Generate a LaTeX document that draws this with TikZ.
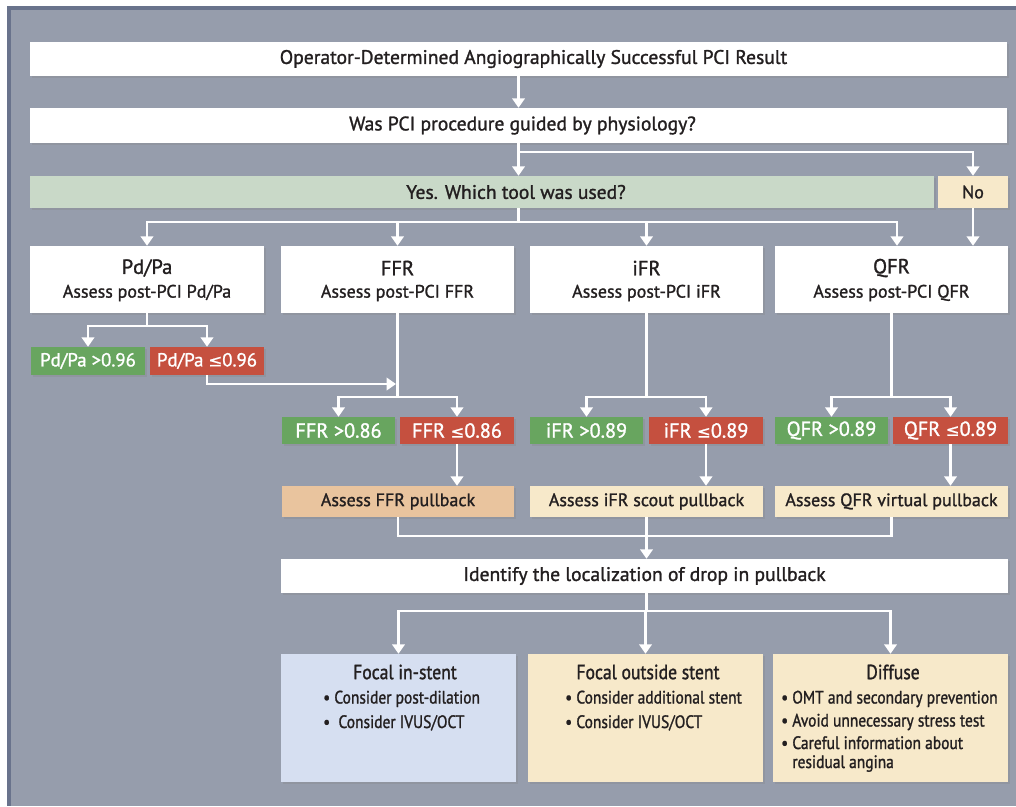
\documentclass[tikz,border=0pt]{standalone}
\usepackage{fontspec}
\setmainfont{PT Sans}[FakeBold=1.3]
\newfontfamily\symf{DejaVu Sans}[FakeBold=0.8]
\newfontfamily\condf{PT Sans}[FakeStretch=0.86,FakeBold=1.3]
\usetikzlibrary{arrows.meta,shadows}
\definecolor{bgc}{HTML}{969DAC}
\definecolor{framec}{HTML}{69738C}
\definecolor{yesg}{HTML}{C9D9C8}
\definecolor{cream}{HTML}{F7E9CA}
\definecolor{orng}{HTML}{E9C49E}
\definecolor{lblue}{HTML}{D6DFF1}
\definecolor{gok}{HTML}{68A55F}
\definecolor{rbad}{HTML}{C5503F}
\definecolor{txt}{HTML}{231F20}
\newcommand{\leqs}{{\symf\fontsize{16.5}{18}\selectfont ≤}}
\begin{document}
\begin{tikzpicture}[x=1pt,y=-1pt,
  basebox/.style={inner sep=0pt, text=txt, drop shadow={opacity=0.25,shadow xshift=1.5pt,shadow yshift=-1.5pt}},
  wbox/.style={basebox, fill=white, font=\fontsize{19.6}{22}\selectfont},
  rowbox/.style={basebox, fill=white},
  rowtxt/.style={inner sep=0pt, text=txt},
  okbox/.style={basebox, fill=gok, text=white, font=\fontsize{20.3}{22}\selectfont},
  badbox/.style={basebox, fill=rbad, text=white, font=\fontsize{20.3}{22}\selectfont},
  pbbox/.style={basebox, font=\fontsize{18}{20}\selectfont},
  endbox/.style={basebox},
  headtxt/.style={inner sep=0pt, text=txt, font=\condf\fontsize{20.5}{22}\selectfont},
  listtxt/.style={inner sep=0pt, text=txt, align=left, font=\condf\fontsize{18}{19}\selectfont},
  ln/.style={draw=white, line width=2.6pt},
  arr/.style={draw=white, line width=2.6pt, -{Triangle[width=12.5pt,length=9.5pt]}}
]
\useasboundingbox (0,0) rectangle (1016,806);
\fill[white] (0,0) rectangle (1016,806);
\fill[framec] (7,6) rectangle (1016,806);
\fill[bgc] (11,10) rectangle (1016,806);

% top boxes
\node[wbox, minimum width=977pt, minimum height=34pt] (res) at (518.5,59) {\hspace*{30pt}Operator-Determined Angiographically Successful PCI Result};
\node[wbox, minimum width=977pt, minimum height=35pt] (q) at (518.5,125.5) {\hspace*{8pt}Was PCI procedure guided by physiology?};
\node[basebox, fill=yesg, minimum width=904pt, minimum height=32pt, font=\fontsize{19.6}{22}\selectfont] (yes) at (482,192) {\hspace*{68pt}Yes. Which tool was used?};
\node[basebox, fill=cream, minimum width=70pt, minimum height=32pt, font=\fontsize{18}{20}\selectfont] (no) at (973,192) {No};

% tool boxes
\node[rowbox, minimum width=234pt, minimum height=67pt] (pd) at (147,279.5) {};
\node[rowbox, minimum width=233pt, minimum height=67pt] (ffr) at (397.5,279.5) {};
\node[rowbox, minimum width=233pt, minimum height=67pt] (ifr) at (646.5,279.5) {};
\node[rowbox, minimum width=233pt, minimum height=67pt] (qfr) at (891.5,279.5) {};
\foreach \b/\t/\s in {pd/Pd\slash Pa/Pd\slash Pa, ffr/FFR/FFR, ifr/iFR/iFR, qfr/QFR/QFR}{
  \node[rowtxt, font=\fontsize{20.5}{22}\selectfont] (\b t) at ([yshift=11.5pt]\b.center) {\t};
  \node[rowtxt, font=\fontsize{18}{20}\selectfont] (\b s) at ([yshift=-13.5pt]\b.center) {Assess post-PCI \s};
}

% thresholds
\node[okbox, minimum width=114pt, minimum height=28pt, font=\fontsize{18.8}{20}\selectfont] (pdg) at (88,361) {Pd/Pa >0.96};
\node[badbox, minimum width=114pt, minimum height=28pt, font=\fontsize{18.8}{20}\selectfont] (pdr) at (207,361) {Pd/Pa \leqs0.96};
\node[okbox, minimum width=113pt, minimum height=27pt] (ffrg) at (338.5,430.5) {FFR >0.86};
\node[badbox, minimum width=114pt, minimum height=27pt] (ffrr) at (457,430.5) {FFR \leqs0.86};
\node[okbox, minimum width=113pt, minimum height=27pt] (ifrg) at (586.5,430.5) {iFR >0.89};
\node[badbox, minimum width=114pt, minimum height=27pt] (ifrr) at (706,430.5) {iFR \leqs0.89};
\node[okbox, minimum width=113pt, minimum height=27pt] (qfrg) at (831.5,430.5) {QFR >0.89};
\node[badbox, minimum width=115pt, minimum height=27pt] (qfrr) at (950.5,430.5) {QFR \leqs0.89};

% pullback boxes
\node[pbbox, fill=orng, minimum width=232pt, minimum height=31pt] (ffrp) at (398,501.5) {Assess FFR pullback};
\node[pbbox, fill=cream, minimum width=233pt, minimum height=31pt] (ifrp) at (646.5,501.5) {Assess iFR scout pullback};
\node[pbbox, fill=cream, minimum width=233pt, minimum height=31pt] (qfrp) at (891.5,501.5) {Assess QFR virtual pullback};

% identify
\node[wbox, minimum width=727pt, minimum height=34pt] (id) at (644.5,576) {Identify the localization of drop in pullback};

% final boxes
\node[endbox, fill=lblue, minimum width=235pt, minimum height=128pt] (b1) at (398.5,718) {};
\node[endbox, fill=cream, minimum width=235pt, minimum height=128pt] (b2) at (645.5,718) {};
\node[endbox, fill=cream, minimum width=235pt, minimum height=128pt] (b3) at (890.5,718) {};
\node[headtxt] (b1h) at (405,672) {Focal in-stent};
\node[headtxt] (b2h) at (648,672) {Focal outside stent};
\node[headtxt] (b3h) at (893,672) {Diffuse};
\node[listtxt, anchor=north west] (b1l) at (323,690) {\begin{tabular}{@{}l@{}}• Consider post-dilation\\[5.5pt] •\ \ Consider IVUS/OCT\end{tabular}};
\node[listtxt, anchor=north west] (b2l) at (565,690) {\begin{tabular}{@{}l@{}}• Consider additional stent\\[5.5pt] • Consider IVUS/OCT\end{tabular}};
\node[listtxt, anchor=north west] (b3l) at (781,690) {\begin{tabular}{@{}l@{}}• OMT and secondary prevention\\[4pt] • Avoid unnecessary stress test\\[3.5pt] • Careful information about\\ \hphantom{• }residual angina\end{tabular}};

% connectors
\draw[arr] (res.south) -- (q.north);
\coordinate (qb) at (518.5,152);
\draw[arr] (q.south) -- (q.south |- yes.north);
\draw[arr] (qb) -| (no.north);
\coordinate (yb) at (518.5,222);
\draw[ln] (yes.south -| yb) -- (yb);
\draw[arr] (yb) -| (pd.north);
\draw[arr] (yb) -| (ffr.north);
\draw[arr] (yb) -| (ifr.north);
\draw[arr] (yb) -| ([xshift=5.5pt]qfr.north);
\draw[arr] (no.south) -- (no.south |- qfr.north);

\coordinate (pdb) at (147,326);
\draw[ln] (pd.south) -- (pdb);
\draw[arr] (pdb) -| (pdg.north);
\draw[arr] (pdb) -| (pdr.north);
\coordinate (pdin) at (396,384);
\draw[arr] (pdr.south) |- (pdin);

\coordinate (ffrb) at (397.5,397);
\draw[ln] (ffr.south) -- (ffrb);
\draw[arr] (ffrb) -| (ffrg.north);
\draw[arr] (ffrb) -| (ffrr.north);
\draw[arr] (ffrr.south) -- (ffrr.south |- ffrp.north);

\coordinate (ifrb) at (646.5,397);
\draw[ln] (ifr.south) -- (ifrb);
\draw[arr] (ifrb) -| (ifrg.north);
\draw[arr] (ifrb) -| (ifrr.north);
\draw[arr] (ifrr.south) -- (ifrr.south |- ifrp.north);

\coordinate (qfrb) at (891.5,397);
\draw[ln] (qfr.south) -- (qfrb);
\draw[arr] (qfrb) -| (qfrg.north);
\draw[arr] (qfrb) -| (qfrr.north);
\draw[arr] (qfrr.south) -- (qfrr.south |- qfrp.north);

\coordinate (pj) at (646.5,536);
\draw[ln] (ffrp.south) |- (pj);
\draw[ln] (qfrp.south) |- (pj);
\draw[arr] (ifrp.south) -- (ifrp.south |- id.north);

\coordinate (ib) at (646.5,611);
\draw[ln] (id.south -| ib) -- (ib);
\draw[arr] (ib) -| (b1.north);
\draw[arr] (ib) -| (b2.north);
\draw[arr] (ib) -| (b3.north);
\end{tikzpicture}
\end{document}
